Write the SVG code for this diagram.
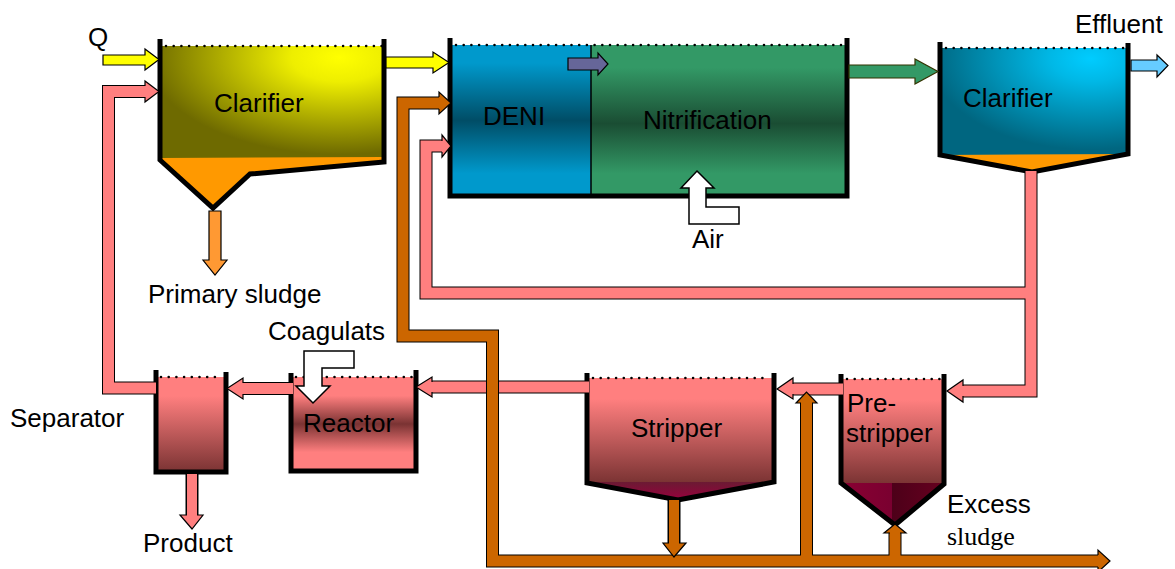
<svg xmlns="http://www.w3.org/2000/svg" width="1175" height="569" viewBox="0 0 1175 569">
<style>
.t{font-family:"Liberation Sans",Arial,sans-serif;font-size:26px;fill:#000}
.ts{font-family:"Liberation Serif","Times New Roman",serif;font-size:26px;fill:#000}
.wall{fill:none;stroke:#000;stroke-width:5;stroke-linejoin:miter}
.dots{fill:none;stroke:#000;stroke-width:2.6;stroke-linecap:round;stroke-dasharray:0 7.7}
.ob{fill:none;stroke:#000;stroke-width:13;stroke-linejoin:miter}
.pk{fill:none;stroke:#ff7f7f;stroke-width:11;stroke-linejoin:miter}
.or{fill:none;stroke:#cc6600;stroke-width:11;stroke-linejoin:miter}
.hp{fill:#ff7f7f;stroke:#000;stroke-width:1.2}
.ho{fill:#cc6600;stroke:#000;stroke-width:1.2}
.wh{fill:#fff;stroke:#000;stroke-width:1.5}
</style>
<defs>
<radialGradient id="gY" cx="0.8" cy="0.1" r="0.85">
<stop offset="0" stop-color="#ffff00"/><stop offset="0.25" stop-color="#eeee00"/><stop offset="1" stop-color="#6e6a00"/>
</radialGradient>
<radialGradient id="gC" cx="0.8" cy="0.1" r="0.85">
<stop offset="0" stop-color="#00ccff"/><stop offset="0.25" stop-color="#00b8e6"/><stop offset="1" stop-color="#006680"/>
</radialGradient>
<linearGradient id="gB" x1="0" y1="0" x2="0" y2="1">
<stop offset="0" stop-color="#0099cc"/><stop offset="0.12" stop-color="#0099cc"/><stop offset="0.5" stop-color="#004d66"/><stop offset="0.85" stop-color="#0099cc"/><stop offset="1" stop-color="#0099cc"/>
</linearGradient>
<linearGradient id="gG" x1="0" y1="0" x2="0" y2="1">
<stop offset="0" stop-color="#339966"/><stop offset="0.15" stop-color="#339966"/><stop offset="0.52" stop-color="#1a4d33"/><stop offset="0.85" stop-color="#339966"/><stop offset="1" stop-color="#339966"/>
</linearGradient>
<linearGradient id="gP" x1="0" y1="0" x2="0" y2="1">
<stop offset="0" stop-color="#ff7f7f"/><stop offset="0.2" stop-color="#ff7f7f"/><stop offset="1" stop-color="#7a3333"/>
</linearGradient>
<linearGradient id="gR" x1="0" y1="0" x2="0" y2="1">
<stop offset="0" stop-color="#ff7f7f"/><stop offset="0.2" stop-color="#ff7f7f"/><stop offset="0.5" stop-color="#7a3333"/><stop offset="0.8" stop-color="#ff7f7f"/><stop offset="1" stop-color="#ff7f7f"/>
</linearGradient>
<linearGradient id="gK" x1="0" y1="0" x2="0" y2="1">
<stop offset="0" stop-color="#6b1a33"/><stop offset="1" stop-color="#99003d"/>
</linearGradient>
<linearGradient id="gK2" x1="0" y1="0" x2="1" y2="0">
<stop offset="0" stop-color="#8a0033"/><stop offset="0.5" stop-color="#7a0030"/><stop offset="0.5" stop-color="#4d0019"/><stop offset="1" stop-color="#66001f"/>
</linearGradient>
</defs>
<rect width="1175" height="569" fill="#fff"/>

<g id="clarifier1">
<rect x="160" y="46" width="224" height="114" fill="url(#gY)"/>
<polygon points="160,158 384,157 384,162 250,174 213,208 160,160" fill="#ff9900"/>
<polyline class="dots" points="166,46 382,46"/>
<polyline class="wall" points="160,39 160,160 213,208 250,174 384,162 384,39"/>
<text class="t" x="214" y="112">Clarifier</text>
</g>

<g id="deni-nitrification">
<rect x="450" y="45" width="141" height="151" fill="url(#gB)"/>
<rect x="591" y="45" width="256" height="151" fill="url(#gG)"/>
<line x1="591" y1="45" x2="591" y2="196" stroke="#000" stroke-width="1.5"/>
<polyline class="dots" points="456,45 845,45"/>
<polyline class="wall" points="450,38 450,196 847,196 847,38"/>
<text class="t" x="483" y="125">DENI</text>
<text class="t" x="643" y="129">Nitrification</text>
</g>

<g id="clarifier2">
<rect x="940" y="48" width="188" height="107" fill="url(#gC)"/>
<polygon points="940,155 1128,154 1032,172" fill="#ff9900"/>
<polyline class="dots" points="946,48 1126,48"/>
<polyline class="wall" points="940,42 940,155 1032,172 1128,154 1128,43"/>
<text class="t" x="963" y="107">Clarifier</text>
</g>

<g id="separator">
<rect x="156" y="377" width="70" height="95" fill="url(#gP)"/>
<polyline class="dots" points="161,377 222,377"/>
<polyline class="wall" points="156,370 156,472 226,472 226,372"/>
<text class="t" x="10" y="427">Separator</text>
</g>

<g id="reactor">
<rect x="291" y="377" width="125" height="94" fill="url(#gR)"/>
<polyline class="dots" points="296,377 412,377"/>
<polyline class="wall" points="291,373 291,471 416,471 416,370"/>
<text class="t" x="303" y="432">Reactor</text>
</g>

<g id="stripper">
<rect x="587" y="378" width="187" height="105" fill="url(#gP)"/>
<polygon points="587,482 774,482 678,500" fill="url(#gK)"/>
<polyline class="dots" points="593,378 770,378"/>
<polyline class="wall" points="587,373 587,483 678,500 774,482 774,373"/>
<text class="t" x="631" y="437">Stripper</text>
</g>

<g id="prestripper">
<rect x="841" y="379" width="103" height="105" fill="url(#gP)"/>
<polygon points="841,483 944,483 895,525" fill="url(#gK2)"/>
<polyline class="dots" points="847,379 940,379"/>
<polyline class="wall" points="841,374 841,483 895,525 944,484 944,374"/>
<text class="t" x="847" y="412">Pre-</text>
<text class="t" x="846" y="442">stripper</text>
</g>

<g id="connectors">
<!-- pink pipes outline + fill -->
<path class="ob" d="M156,388 H108.5 V91.5 H146"/>
<path class="ob" d="M293,388.5 H242"/>
<path class="ob" d="M589,387 H431"/>
<path class="ob" d="M843,389 H792"/>
<path class="ob" d="M1031,171 V391 H962 M1031,293 H426 V146 H443"/>
<path class="ob" d="M192,474 V516"/>
<path class="pk" d="M156,388 H108.5 V91.5 H146"/>
<path class="pk" d="M293,388.5 H242"/>
<path class="pk" d="M589,387 H431"/>
<path class="pk" d="M843,389 H792"/>
<path class="pk" d="M1031,171 V391 H962 M1031,293 H426 V146 H443"/>
<path class="pk" d="M192,474 V516" style="stroke-width:10"/>
<path class="hp" d="M145,86 L145,81 L159,91.5 L145,102 L145,97"/>
<path class="hp" d="M243,383 L243,378 L227,388.5 L243,399 L243,394"/>
<path class="hp" d="M432,382 L432,377 L416,387 L432,397 L432,392"/>
<path class="hp" d="M793,384 L793,378 L777,389 L793,399 L793,394"/>
<path class="hp" d="M963,386 L963,380 L947,391 L963,402 L963,396"/>
<path class="hp" d="M442,141 L442,135 L451,146 L442,157 L442,152"/>
<path class="hp" d="M187,515 L180,515 L192,529 L203,515 L197,515"/>
<!-- orange pipes -->
<path class="ob" d="M1099,561 H492.5 V336 H403 V103 H440 M806.5,561 V402 M895,561 V532 M674,500 V544"/>
<path class="or" d="M1099,561 H492.5 V336 H403 V103 H440 M806.5,561 V402 M895,561 V532"/>
<path class="or" d="M674,500 V544" style="stroke-width:10"/>
<path class="ho" d="M1098,555 L1098,550 L1110,561 L1098,572 L1098,567"/>
<path class="ho" d="M439,97 L439,92 L451,103 L439,114 L439,109"/>
<path class="ho" d="M801,403 L796,403 L806.5,392 L817,403 L812,403"/>
<path class="ho" d="M890,533 L884,533 L895,524 L906,533 L900,533"/>
<path class="ho" d="M669,543 L663,543 L674,557 L686,543 L679,543"/>
<!-- yellow -->
<path d="M103,55 H145 V49 L159,59.5 L145,70 V65 H103 Z" fill="#ffff00" stroke="#000" stroke-width="1.2"/>
<path d="M386,57 H433 V52 L449,62.5 L433,73 V68 H386 Z" fill="#ffff00" stroke="#000" stroke-width="1.2"/>
<!-- purple -->
<path d="M568,58 H598 V53 L608,64 L598,75 V70 H568 Z" fill="#666699" stroke="#000" stroke-width="1.2"/>
<!-- green -->
<path d="M849,65 H915 V59 L938,71.5 L915,84 V78 H849 Z" fill="#339966" stroke="#333300" stroke-width="1.2"/>
<!-- effluent -->
<path d="M1131,60 H1157 V55 L1168,65.5 L1157,77 V71 H1131 Z" fill="#66ccff" stroke="#000" stroke-width="1.2"/>
<!-- primary sludge -->
<path d="M209,211 H221 V260 H227 L215,275 L203,260 H209 Z" fill="#ff9933" stroke="#000" stroke-width="1.2"/>
<!-- air -->
<polygon class="wh" points="697,171 714,188 706,188 706,207 739,207 739,224 689,224 689,188 681,188"/>
<!-- coagulats -->
<polygon class="wh" points="304,351 354,351 354,368 322,368 322,386 330,386 313,403 296,386 304,386"/>
</g>

<g id="labels">
<text class="t" x="88" y="46">Q</text>
<text class="t" x="1075" y="33">Effluent</text>
<text class="t" x="692" y="248">Air</text>
<text class="t" x="148" y="303">Primary sludge</text>
<text class="t" x="268" y="340">Coagulats</text>
<text class="t" x="947" y="513">Excess</text>
<text class="ts" x="947" y="545">sludge</text>
<text class="t" x="143" y="552">Product</text>
</g>
</svg>
